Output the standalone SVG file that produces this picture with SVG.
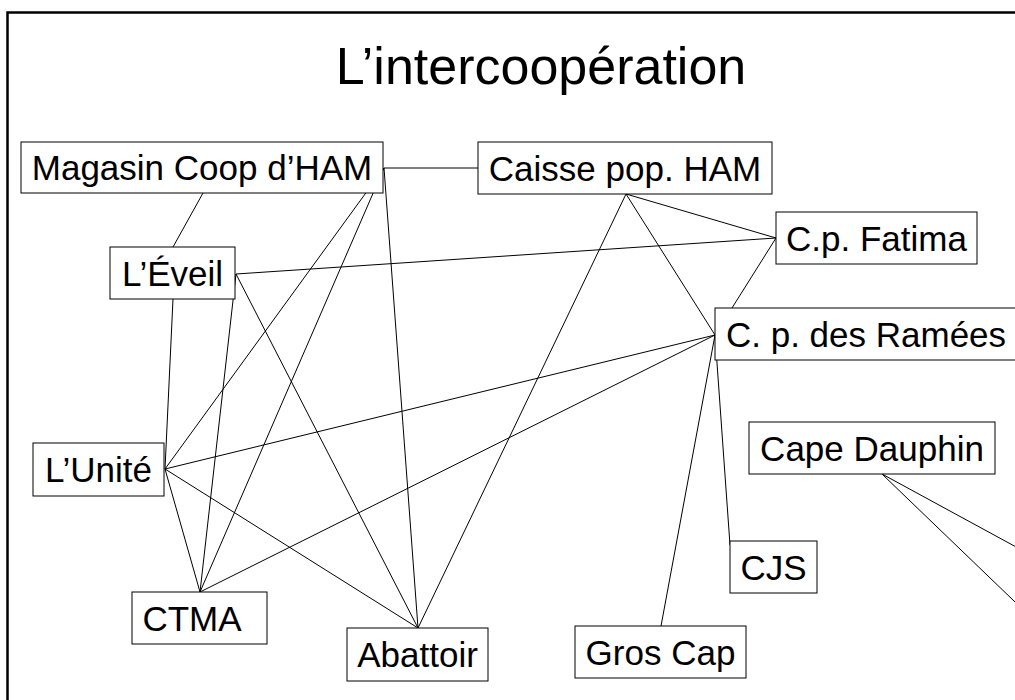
<svg xmlns="http://www.w3.org/2000/svg" width="1015" height="700" viewBox="0 0 1015 700">
<style>
.node rect{fill:#fff;stroke:#000;stroke-width:1}
.node text{font-family:"Liberation Sans",Arial,sans-serif;font-size:35px;fill:#000;text-anchor:middle}
.edges line{stroke:#000;stroke-width:1}
.title{font-family:"Liberation Sans",Arial,sans-serif;font-size:52px;fill:#000;text-anchor:middle}
</style>
<rect x="7.5" y="12.5" width="1040" height="720" fill="#fff" stroke="#000" stroke-width="2.5"/>
<text class="title" x="541" y="84">L’intercoopération</text>
<g id="edges" class="edges">
<line x1="384" y1="168" x2="478" y2="168"/>
<line x1="203" y1="193" x2="173" y2="247"/>
<line x1="384" y1="168" x2="165" y2="469"/>
<line x1="384" y1="168" x2="200" y2="592"/>
<line x1="384" y1="168" x2="418" y2="628"/>
<line x1="236" y1="274" x2="776" y2="238"/>
<line x1="236" y1="274" x2="200" y2="592"/>
<line x1="236" y1="274" x2="418" y2="628"/>
<line x1="173" y1="299" x2="165" y2="469"/>
<line x1="165" y1="469" x2="715" y2="335"/>
<line x1="165" y1="469" x2="200" y2="592"/>
<line x1="165" y1="469" x2="418" y2="628"/>
<line x1="200" y1="592" x2="715" y2="335"/>
<line x1="418" y1="628" x2="626" y2="194"/>
<line x1="626" y1="194" x2="776" y2="238"/>
<line x1="626" y1="194" x2="715" y2="335"/>
<line x1="776" y1="238" x2="715" y2="335"/>
<line x1="715" y1="335" x2="661" y2="626"/>
<line x1="715" y1="335" x2="730" y2="545"/>
<line x1="882" y1="474" x2="1040" y2="560"/>
<line x1="882" y1="474" x2="1040" y2="626"/>
</g>
<g id="magasin" class="node"><rect x="21" y="142" width="362" height="51"/><text x="202" y="180">Magasin Coop d’HAM</text></g>
<g id="caisse" class="node"><rect x="478" y="142" width="294" height="52"/><text x="625" y="180.5">Caisse pop. HAM</text></g>
<g id="fatima" class="node"><rect x="776" y="212" width="201" height="52"/><text x="876.5" y="250.5">C.p. Fatima</text></g>
<g id="eveil" class="node"><rect x="110" y="247" width="125" height="52"/><text x="172.5" y="285.5">L’Éveil</text></g>
<g id="ramees" class="node"><rect x="715" y="308" width="302" height="52"/><text x="866" y="346.5">C. p. des Ramées</text></g>
<g id="dauphin" class="node"><rect x="749" y="422" width="246" height="52"/><text x="872" y="460.5">Cape Dauphin</text></g>
<g id="unite" class="node"><rect x="33" y="443" width="131" height="53"/><text x="98.5" y="482">L’Unité</text></g>
<g id="cjs" class="node"><rect x="730" y="541" width="87" height="52"/><text x="773.5" y="579.5">CJS</text></g>
<g id="ctma" class="node"><rect x="132" y="592" width="135" height="52"/><text x="192" y="630.5">CTMA</text></g>
<g id="abattoir" class="node"><rect x="347" y="628" width="141" height="53"/><text x="417.5" y="667">Abattoir</text></g>
<g id="groscap" class="node"><rect x="575" y="626" width="171" height="52"/><text x="660.5" y="664.5">Gros Cap</text></g>
</svg>
